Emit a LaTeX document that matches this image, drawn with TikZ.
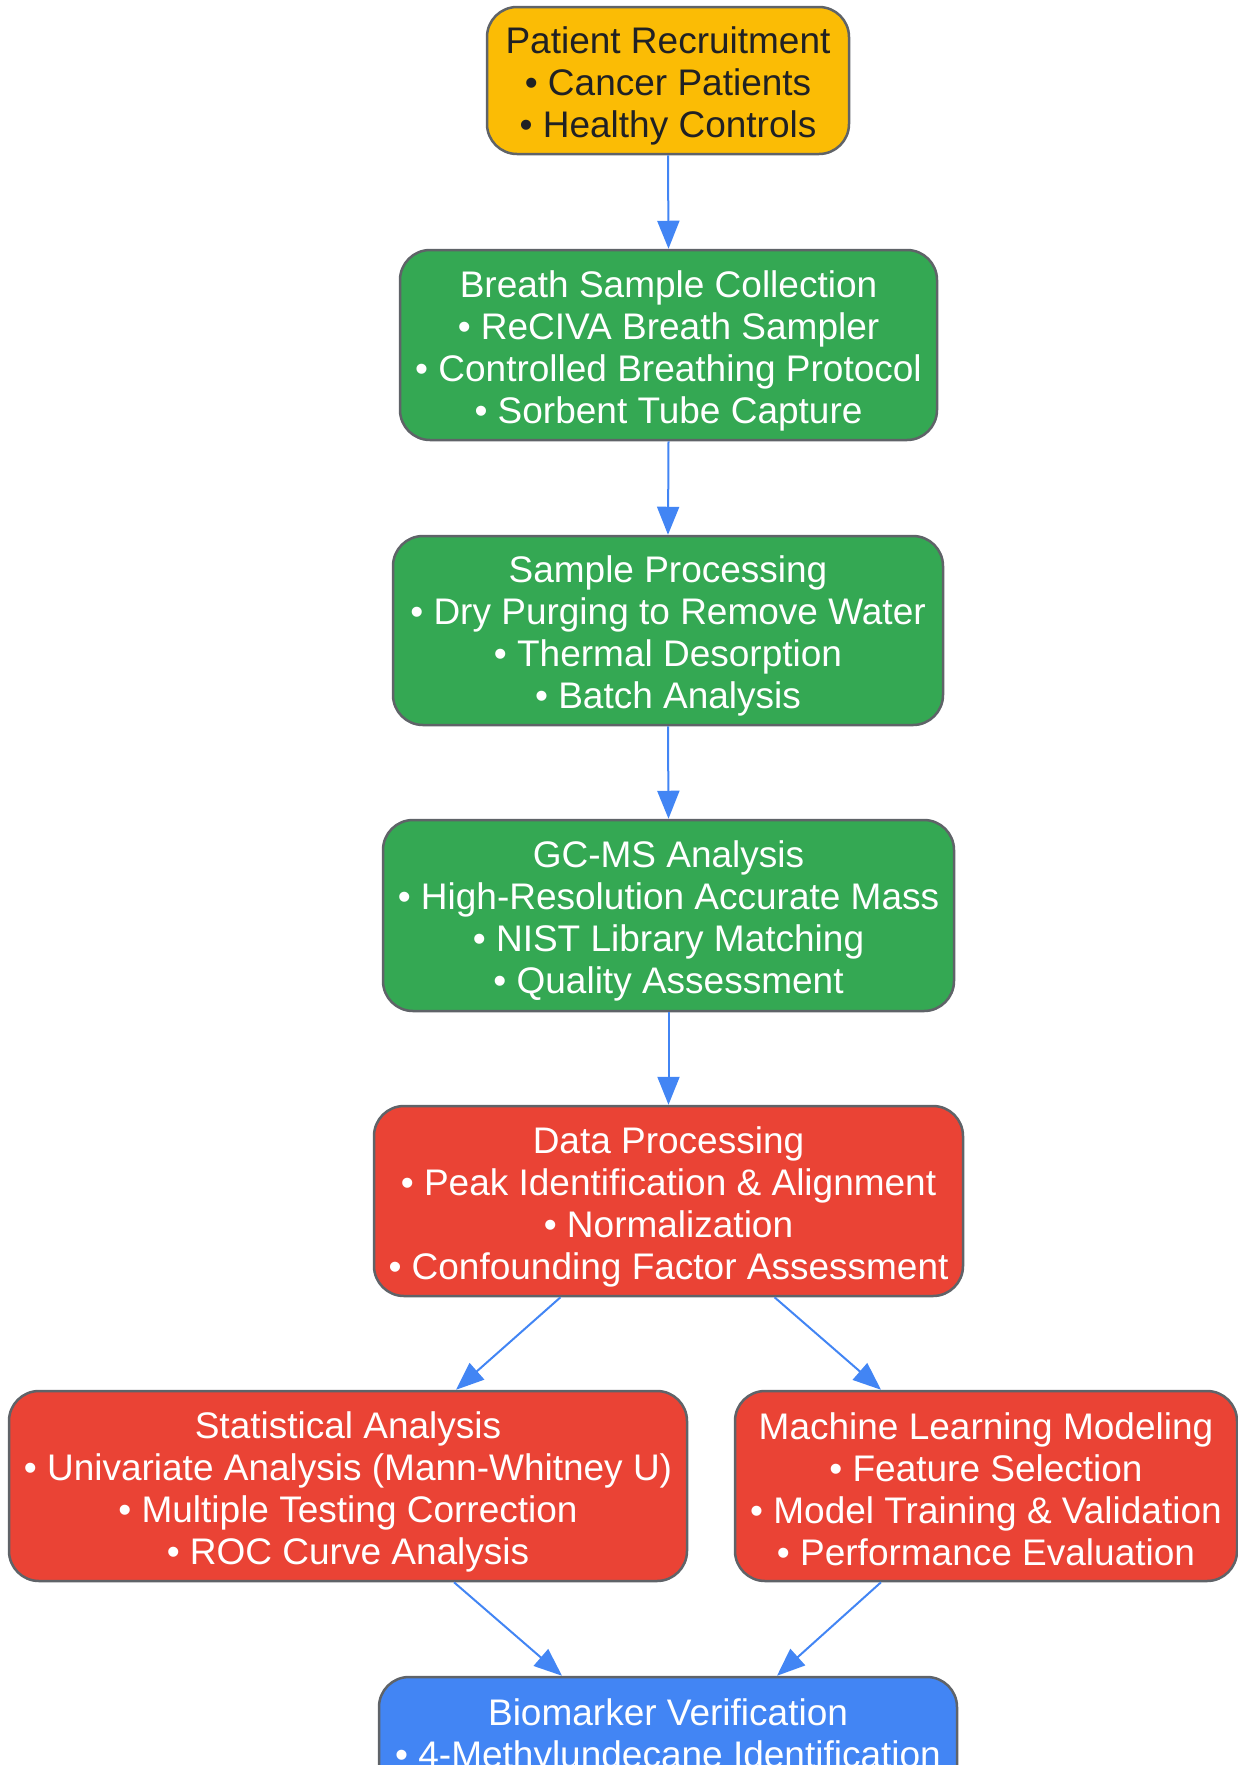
\documentclass[tikz,border=0pt]{standalone}
\usepackage{fontspec}
\setmainfont{Liberation Sans}
\usetikzlibrary{arrows.meta,calc}
\definecolor{gyellow}{HTML}{FBBC05}
\definecolor{ggreen}{HTML}{34A853}
\definecolor{gred}{HTML}{EA4335}
\definecolor{gblue}{HTML}{4285F4}
\definecolor{gborder}{HTML}{5F6368}
\definecolor{gdark}{HTML}{202124}
\newcommand\topst{\rule{0pt}{38pt}}
\newcommand\botst{\rule[-6pt]{0pt}{6pt}}
\tikzset{
  box/.style={draw=gborder, line width=2.5pt, rounded corners=30pt, align=center,
    inner sep=0pt, text=white, font=\fontsize{37}{42}\selectfont},
  flow/.style={draw=gblue, line width=2pt, -{Triangle[length=28pt,width=22pt]}},
}
\begin{document}
\begin{tikzpicture}[x=1pt,y=-1pt]
\path[use as bounding box] (0,0) rectangle (1238,1765);
\clip (0,0) rectangle (1238,1765);
\node[box, fill=gyellow, text=gdark, minimum width=362pt, minimum height=147pt] (patient) at (668,80.5)
  {\topst Patient Recruitment\\• Cancer Patients\\• Healthy Controls\botst};
\node[box, fill=ggreen, minimum width=537pt, minimum height=190pt] (breath) at (668.5,345)
  {\topst Breath Sample Collection\\• ReCIVA Breath Sampler\\• Controlled Breathing Protocol\\• Sorbent Tube Capture\botst};
\node[box, fill=ggreen, minimum width=550pt, minimum height=189pt] (sample) at (668,630.5)
  {\topst Sample Processing\\• Dry Purging to Remove Water\\• Thermal Desorption\\• Batch Analysis\botst};
\node[box, fill=ggreen, minimum width=571pt, minimum height=191pt] (gcms) at (668.5,915.5)
  {\topst GC-MS Analysis\\• High-Resolution Accurate Mass\\• NIST Library Matching\\• Quality Assessment\botst};
\node[box, fill=gred, minimum width=589pt, minimum height=190pt] (data) at (668.5,1201)
  {\topst Data Processing\\• Peak Identification \& Alignment\\• Normalization\\• Confounding Factor Assessment\botst};
\node[box, fill=gred, minimum width=678pt, minimum height=190pt] (stat) at (348,1486)
  {\topst Statistical Analysis\\• Univariate Analysis (Mann-Whitney U)\\• Multiple Testing Correction\\• ROC Curve Analysis\botst};
\node[box, fill=gred, minimum width=502pt, minimum height=190pt] (ml) at (986,1486)
  {\topst Machine Learning Modeling\\• Feature Selection\\• Model Training \& Validation\\• Performance Evaluation\botst};
\node[box, fill=gblue, minimum width=578pt, minimum height=190pt] (bio) at (668,1772)
  {\topst Biomarker Verification\\• 4-Methylundecane Identification\\\mbox{}\\\mbox{}\botst};
\draw[flow] (patient.south) -- (breath.north);
\draw[flow] (breath.south) -- (sample.north);
\draw[flow] (sample.south) -- (gcms.north);
\draw[flow] (gcms.south) -- (data.north);
\draw[flow] ([xshift=-108pt]data.south) -- ([xshift=108pt]stat.north);
\draw[flow] ([xshift=106pt]data.south) -- ([xshift=-105pt]ml.north);
\draw[flow] ([xshift=106pt]stat.south) -- ([xshift=-106pt]bio.north);
\draw[flow] ([xshift=-105pt]ml.south) -- ([xshift=109pt]bio.north);
\end{tikzpicture}
\end{document}
